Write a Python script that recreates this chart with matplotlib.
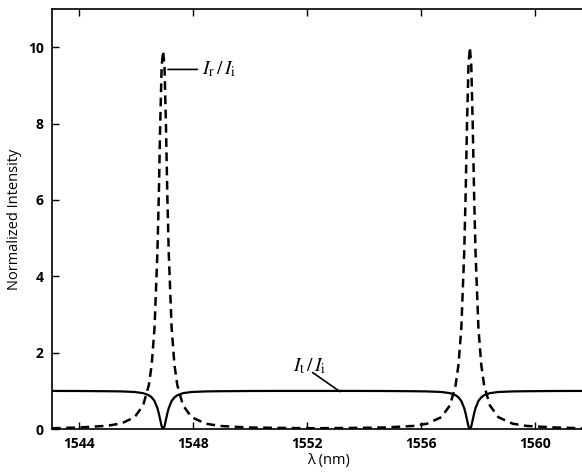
import matplotlib.pyplot as plt

# wavelength samples (nm), denser around the two resonances
wavelength = [1543.05, 1544.0, 1545.0, 1545.5, 1545.95, 1546.25, 1546.45, 1546.55,
              1546.65, 1546.75, 1546.8, 1546.85, 1546.9, 1546.95, 1547.0, 1547.05,
              1547.1, 1547.15, 1547.25, 1547.35, 1547.45, 1547.65, 1547.95, 1548.45,
              1548.95, 1549.95, 1550.95, 1552.3,
              1553.72, 1554.72, 1555.72, 1556.22, 1556.72, 1557.02, 1557.22, 1557.32,
              1557.42, 1557.52, 1557.57, 1557.62, 1557.67, 1557.72, 1557.77, 1557.82,
              1557.87, 1557.92, 1558.02, 1558.12, 1558.22, 1558.42, 1558.72, 1559.22,
              1559.72, 1560.72, 1561.72, 1562.5]

# drop port I_r/I_i (dashed)
drop = [0.02, 0.04, 0.085, 0.15, 0.31, 0.62, 1.15, 1.68,
        2.65, 4.6, 6.1, 8.0, 9.5, 9.9, 9.5, 8.0,
        6.1, 4.6, 2.65, 1.68, 1.15, 0.62, 0.31, 0.14,
        0.08, 0.04, 0.03, 0.02,
        0.03, 0.04, 0.08, 0.14, 0.31, 0.62, 1.15, 1.68,
        2.65, 4.6, 6.1, 8.0, 9.5, 10.0, 9.5, 8.0,
        6.1, 4.6, 2.65, 1.68, 1.15, 0.62, 0.31, 0.14,
        0.08, 0.04, 0.02, 0.02]

# through port I_t/I_i (solid)
through = [0.998, 0.996, 0.99, 0.985, 0.97, 0.94, 0.885, 0.83,
           0.735, 0.55, 0.41, 0.24, 0.07, 0.0, 0.07, 0.24,
           0.41, 0.55, 0.735, 0.83, 0.885, 0.94, 0.97, 0.985,
           0.99, 0.996, 0.998, 0.998,
           0.998, 0.996, 0.99, 0.985, 0.97, 0.94, 0.885, 0.83,
           0.735, 0.55, 0.41, 0.24, 0.07, 0.0, 0.07, 0.24,
           0.41, 0.55, 0.735, 0.83, 0.885, 0.94, 0.97, 0.985,
           0.99, 0.996, 0.998, 0.998]

xticks = [1544, 1548, 1552, 1556, 1560]
yticks = [0, 2, 4, 6, 8, 10]

plt.rcParams['mathtext.fontset'] = 'stix'

fig = plt.figure(figsize=(5.82, 4.75), dpi=100)
ax = fig.add_axes([0.0893, 0.0968, 0.952, 0.884])

ax.plot(wavelength, through, '-', color='black', lw=1.6)
ax.plot(wavelength, drop, color='black', lw=1.8, dashes=(3.5, 2.2))

ax.set_xlim(1543.05, 1562.5)
ax.set_ylim(0, 11)
ax.set_xticks(xticks)
ax.set_yticks(yticks)
ax.tick_params(direction='in', length=5, width=1, top=True, labelsize=10,
               pad=6)
for lab in ax.get_xticklabels() + ax.get_yticklabels():
    lab.set_fontfamily('Open Sans')
    lab.set_fontweight('bold')
for s in ax.spines.values():
    s.set_linewidth(1.2)

ax.set_xlabel('λ (nm)', fontsize=10.5, fontfamily='Open Sans', labelpad=1)
ax.set_ylabel('Normalized Intensity', fontsize=10.5, fontfamily='Open Sans',
              labelpad=4)

# labels with leader lines
ax.annotate(r'$I_{\mathrm{r}}\,/\,I_{\mathrm{i}}$', xy=(1547.12, 9.42),
            xytext=(1548.3, 9.42), fontsize=14, va='center', ha='left',
            arrowprops=dict(arrowstyle='-', color='black', lw=1.2,
                            shrinkA=1, shrinkB=0))
ax.text(1552.1, 1.66, r'$I_{\mathrm{t}}\,/\,I_{\mathrm{i}}$', fontsize=14,
        va='center', ha='center')
ax.annotate('', xy=(1553.16, 0.98), xytext=(1552.2, 1.48),
            arrowprops=dict(arrowstyle='-', color='black', lw=1.2,
                            shrinkA=0, shrinkB=0))

fig.savefig('out.png', dpi=100)
